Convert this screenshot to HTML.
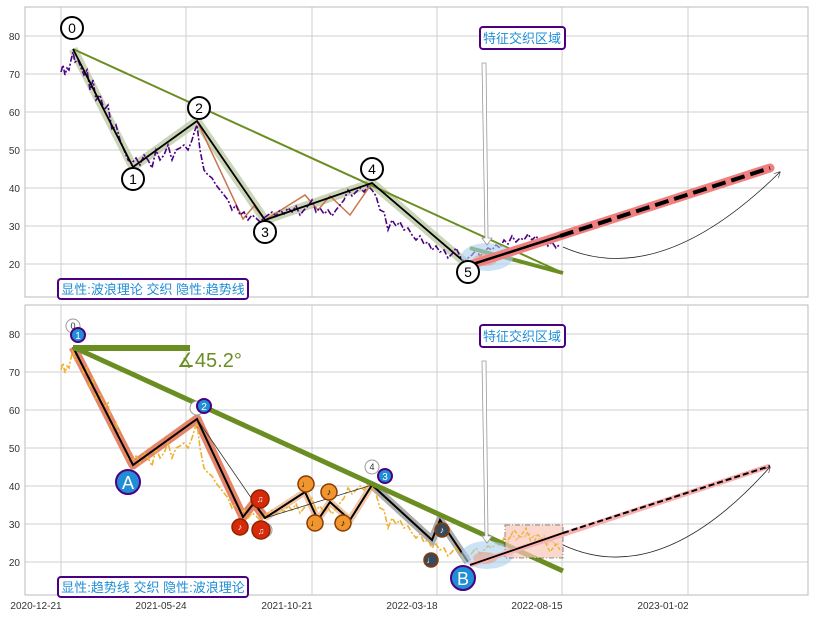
<!DOCTYPE html>
<html><head><meta charset="utf-8"><style>
body{margin:0;background:#fff;}
svg{display:block;font-family:"Liberation Sans","Noto Sans CJK SC",sans-serif;}
</style></head><body>
<svg width="813" height="617" viewBox="0 0 813 617" xmlns="http://www.w3.org/2000/svg">
<defs>
<marker id="ah" viewBox="0 0 10 10" refX="9" refY="5" markerWidth="8" markerHeight="8" orient="auto"><path d="M0,0 L10,5 L0,10" fill="none" stroke="#333" stroke-width="1"/></marker>
<polyline id="ser" fill="none" points="61,72 63,65 65,75 67,68 69,70 71,60 73,52 75,62 78,60 81,68 84,75 87,70 90,90 93,80 96,100 100,95 104,110 108,105 112,130 116,125 120,140 124,150 128,160 132,163 136,158 140,165 144,155 148,160 152,168 156,150 160,160 164,155 168,145 172,160 176,150 180,148 184,145 188,150 192,140 195,130 197,125 200,150 204,170 208,175 212,178 216,185 220,190 224,195 228,200 232,210 236,205 240,215 244,212 248,220 252,215 256,218 260,222 264,218 268,215 272,212 276,216 280,210 284,214 288,208 292,212 296,206 300,215 304,210 308,206 312,200 316,212 320,208 324,214 328,210 332,216 336,210 340,205 344,200 348,190 352,196 356,192 360,188 364,192 368,186 372,190 376,196 380,210 384,212 388,230 392,220 396,226 400,222 404,230 408,228 412,235 416,240 420,236 424,244 428,242 432,250 436,246 440,252 444,250 448,258 452,254 456,248 460,256 464,262 468,258 472,255 476,250 480,256 484,252 488,248 492,250 496,245 500,248 504,240 508,244 512,236 516,242 520,238 524,240 528,234 532,240 536,236 540,242 544,238 548,246 552,242 556,248 560,244"/>
</defs>
<rect width="813" height="617" fill="#fff"/>
<!-- grids -->
<g stroke="#cfcfcf" stroke-width="1">
<g id="gr">
<line x1="61" y1="7" x2="61" y2="297"/><line x1="186" y1="7" x2="186" y2="297"/><line x1="312" y1="7" x2="312" y2="297"/><line x1="437" y1="7" x2="437" y2="297"/><line x1="562" y1="7" x2="562" y2="297"/><line x1="688" y1="7" x2="688" y2="297"/>
<line x1="25" y1="36" x2="808" y2="36"/><line x1="25" y1="74" x2="808" y2="74"/><line x1="25" y1="112" x2="808" y2="112"/><line x1="25" y1="150" x2="808" y2="150"/><line x1="25" y1="188" x2="808" y2="188"/><line x1="25" y1="226" x2="808" y2="226"/><line x1="25" y1="264" x2="808" y2="264"/>
</g>
<use href="#gr" transform="translate(0,298)"/>
</g>
<rect x="25" y="7" width="783" height="290" fill="none" stroke="#bbb"/>
<rect x="25" y="305" width="783" height="290" fill="none" stroke="#bbb"/>
<g font-size="10" fill="#333" text-anchor="end">
<text x="20" y="40">80</text><text x="20" y="78">70</text><text x="20" y="116">60</text><text x="20" y="154">50</text><text x="20" y="192">40</text><text x="20" y="230">30</text><text x="20" y="268">20</text>
<text x="20" y="338">80</text><text x="20" y="376">70</text><text x="20" y="414">60</text><text x="20" y="452">50</text><text x="20" y="490">40</text><text x="20" y="528">30</text><text x="20" y="566">20</text>
</g>
<g font-size="10" fill="#333" text-anchor="middle">
<text x="36" y="609">2020-12-21</text><text x="161" y="609">2021-05-24</text><text x="287" y="609">2021-10-21</text><text x="412" y="609">2022-03-18</text><text x="537" y="609">2022-08-15</text><text x="663" y="609">2023-01-02</text>
</g>

<!-- TOP PANEL -->
<polyline points="73,49 133,167 197,121 265,220 372,183 468,265" fill="none" stroke="#b5c49a" stroke-width="9" opacity="0.7" stroke-linejoin="round"/>
<polyline points="197,121 243,219 254,206 265,220 305,195 318,210 330,196 350,215 372,183" fill="none" stroke="#c9754a" stroke-width="1.5"/>
<use href="#ser" stroke="#4b0082" stroke-width="1.6" stroke-dasharray="6,2,2,2"/>
<line x1="73" y1="49" x2="563" y2="273" stroke="#6b8e23" stroke-width="2"/>
<line x1="470" y1="248" x2="563" y2="273" stroke="#6b8e23" stroke-width="4"/>
<polyline points="73,49 133,167 197,121 265,220 372,183 468,265" fill="none" stroke="#000" stroke-width="1.8"/>
<ellipse cx="487" cy="257" rx="26" ry="14" fill="#a9d0ec" opacity="0.6"/>
<ellipse cx="485" cy="260" rx="12" ry="6" fill="#e8a08a" opacity="0.6"/>
<line x1="470" y1="265" x2="770" y2="168" stroke="#f08080" stroke-width="9" stroke-linecap="round"/>
<line x1="470" y1="265" x2="560" y2="236" stroke="#000" stroke-width="2.5"/>
<line x1="560" y1="236" x2="770" y2="168" stroke="#000" stroke-width="4" stroke-dasharray="14,6"/>
<path d="M563,247 Q660,290 780,172" fill="none" stroke="#222" stroke-width="0.8" marker-end="url(#ah)"/>
<path d="M482,63 L486,63 L488,238 L492,238 L487,245 L482,238 L485,238 Z" fill="#fff" stroke="#999" stroke-width="0.8"/>
<g fill="#fff" stroke="#000" stroke-width="2">
<circle cx="72" cy="28" r="11"/><circle cx="133" cy="179" r="11"/><circle cx="199" cy="108" r="11"/><circle cx="265" cy="232" r="11"/><circle cx="372" cy="169" r="11"/><circle cx="468" cy="272" r="11"/>
</g>
<g font-size="14" text-anchor="middle" fill="#000">
<text x="72" y="33">0</text><text x="133" y="184">1</text><text x="199" y="113">2</text><text x="265" y="237">3</text><text x="372" y="174">4</text><text x="468" y="277">5</text>
</g>
<rect x="480" y="27" width="85" height="22" rx="3" fill="#fff" stroke="#4b0082" stroke-width="2"/>
<text x="522" y="43" font-size="13" fill="#1f8ed6" text-anchor="middle">特征交织区域</text>
<rect x="58" y="279" width="190" height="20" rx="3" fill="#fff" stroke="#4b0082" stroke-width="2"/>
<text x="153" y="294" font-size="13" fill="#1f8ed6" text-anchor="middle">显性:波浪理论 交织 隐性:趋势线</text>

<!-- BOTTOM PANEL -->
<polyline points="73,347 133,465 197,419 243,517 254,503 265,518" fill="none" stroke="#e07050" stroke-width="9" opacity="0.85" stroke-linejoin="round"/>
<polyline points="265,518 305,492 318,520 330,502 350,520 372,485" fill="none" stroke="#e8a070" stroke-width="7" opacity="0.6"/>
<polyline points="372,485 432,540 440,520 468,562" fill="none" stroke="#999" stroke-width="8" opacity="0.8"/>
<use href="#ser" transform="translate(0,298)" stroke="#f0b030" stroke-width="1.6" stroke-dasharray="6,2,2,2"/>
<polyline points="197,419 265,518 372,485" fill="none" stroke="#333" stroke-width="0.8"/>
<polyline points="73,347 133,465 197,419 243,517 254,503 265,518 305,492 318,520 330,502 350,520 372,485 432,540 440,520 468,562" fill="none" stroke="#000" stroke-width="2"/>
<line x1="73" y1="347" x2="563" y2="571" stroke="#6b8e23" stroke-width="5"/>
<line x1="73" y1="348" x2="190" y2="348" stroke="#6b8e23" stroke-width="6"/>
<text x="177" y="367" font-size="20" fill="#6b8e23">∡45.2°</text>
<ellipse cx="487" cy="555" rx="26" ry="14" fill="#a9d0ec" opacity="0.6"/>
<ellipse cx="485" cy="558" rx="12" ry="6" fill="#e8a08a" opacity="0.6"/>
<rect x="505" y="525" width="58" height="33" fill="#f8c8b8" opacity="0.7" stroke="#333" stroke-width="0.8" stroke-dasharray="5,2,1,2"/>
<polyline points="508,540 514,530 520,537 526,528 532,545 538,535 544,540 550,552 556,544 560,550" fill="none" stroke="#f0b030" stroke-width="1.3" stroke-dasharray="4,2"/>
<line x1="470" y1="565" x2="770" y2="466" stroke="#f8b0b0" stroke-width="5"/>
<line x1="470" y1="565" x2="563" y2="533" stroke="#000" stroke-width="1.8"/>
<line x1="563" y1="533" x2="770" y2="466" stroke="#000" stroke-width="2" stroke-dasharray="6,3"/>
<path d="M563,545 Q660,590 770,467" fill="none" stroke="#222" stroke-width="0.8" marker-end="url(#ah)"/>
<path d="M482,361 L486,361 L488,536 L492,536 L487,543 L482,536 L485,536 Z" fill="#fff" stroke="#999" stroke-width="0.8"/>
<g fill="#fff" stroke="#999" stroke-width="1">
<circle cx="73" cy="326" r="7"/><circle cx="197" cy="408" r="7"/><circle cx="372" cy="467" r="7"/><circle cx="265" cy="530" r="7"/>
</g>
<g font-size="9" fill="#333" text-anchor="middle"><text x="73" y="329">0</text><text x="372" y="470">4</text></g>
<g stroke="#4b0082" stroke-width="2" fill="#1f8ed6">
<circle cx="78" cy="335" r="7"/><circle cx="204" cy="406" r="7"/><circle cx="385" cy="476" r="7"/>
<circle cx="128" cy="482" r="12"/><circle cx="463" cy="578" r="12"/>
</g>
<g fill="#fff" text-anchor="middle">
<text x="78" y="339" font-size="10">1</text><text x="204" y="410" font-size="10">2</text><text x="385" y="480" font-size="10">3</text>
<text x="128" y="489" font-size="18">A</text><text x="463" y="585" font-size="18">B</text>
</g>
<g stroke="#8b2500" stroke-width="1.5" fill="#d62a0a">
<circle cx="240" cy="527" r="8"/><circle cx="260" cy="499" r="9"/><circle cx="261" cy="530" r="9"/>
</g>
<g stroke="#8b3a00" stroke-width="1.5" fill="#f0962e">
<circle cx="306" cy="484" r="8"/><circle cx="315" cy="523" r="8"/><circle cx="329" cy="492" r="8"/><circle cx="343" cy="523" r="8"/>
</g>
<g stroke="#8b3a00" stroke-width="1.5" fill="#3a4a5a">
<circle cx="431" cy="560" r="7"/><circle cx="442" cy="530" r="7"/>
</g>
<g fill="#fff" font-size="9" text-anchor="middle">
<text x="240" y="530">♪</text><text x="260" y="502">♫</text><text x="261" y="534">♫</text>
<text x="306" y="487" fill="#000">♩</text><text x="315" y="526" fill="#000">♩</text><text x="329" y="495" fill="#000">♪</text><text x="343" y="526" fill="#000">♪</text>
<text x="431" y="563">♩</text><text x="442" y="533">♪</text>
</g>
<rect x="480" y="325" width="85" height="22" rx="3" fill="#fff" stroke="#4b0082" stroke-width="2"/>
<text x="522" y="341" font-size="13" fill="#1f8ed6" text-anchor="middle">特征交织区域</text>
<rect x="58" y="577" width="190" height="20" rx="3" fill="#fff" stroke="#4b0082" stroke-width="2"/>
<text x="153" y="592" font-size="13" fill="#1f8ed6" text-anchor="middle">显性:趋势线 交织 隐性:波浪理论</text>
</svg>
</body></html>
